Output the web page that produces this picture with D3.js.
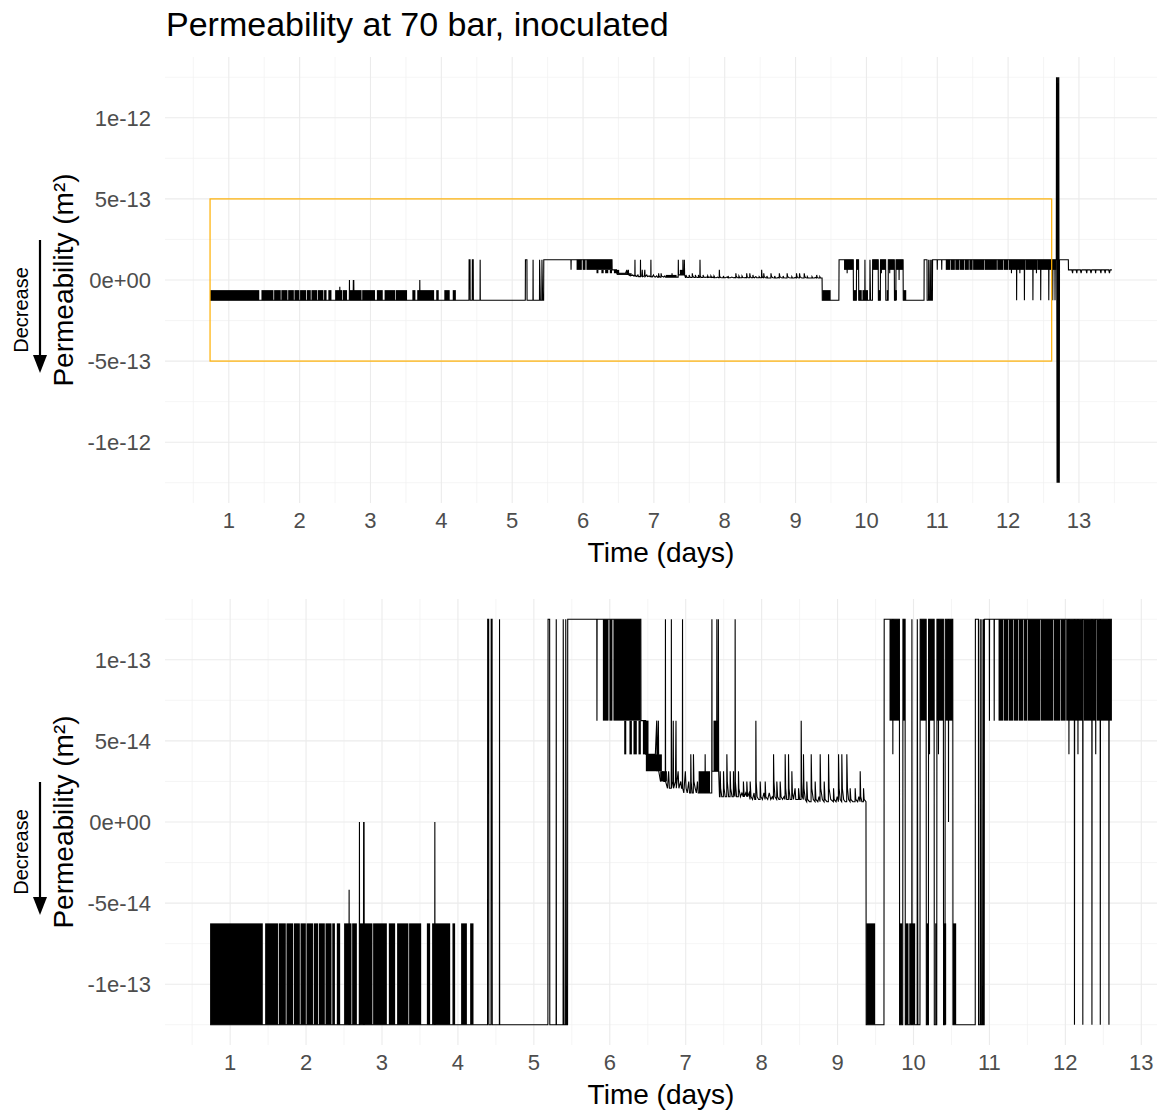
<!DOCTYPE html>
<html>
<head>
<meta charset="utf-8">
<script src="https://cdn.jsdelivr.net/npm/d3@7"></script>
<style>
body { margin: 0; background: #fff; }
text { font-family: "Liberation Sans", Arial, sans-serif; }
</style>
</head>
<body>
<svg id="chart" width="1160" height="1112"></svg>
<script>
// permeability values are in units of 1e-14 m2, time in days
var xTicks = [1, 2, 3, 4, 5, 6, 7, 8, 9, 10, 11, 12, 13];
var yTicksTop = [-100, -50, 0, 50, 100];
var yLabelsTop = ["-1e-12", "-5e-13", "0e+00", "5e-13", "1e-12"];
var yTicksBottom = [-10, -5, 0, 5, 10];
var yLabelsBottom = ["-1e-13", "-5e-14", "0e+00", "5e-14", "1e-13"];
var zoomBox = [0.7355, 12.615, -50, 50]; // t0, t1, low, high

// fast switching periods, drawn as filled blocks: [t0, t1, low, high]
var blocks = [
  [0.736,1.430,-12.5,-6.25],[1.461,1.630,-12.5,-6.25],[1.640,1.733,-12.5,-6.25],[1.742,1.828,-12.5,-6.25],
  [1.838,1.918,-12.5,-6.25],[1.927,1.997,-12.5,-6.25],[2.006,2.091,-12.5,-6.25],[2.101,2.157,-12.5,-6.25],
  [2.167,2.247,-12.5,-6.25],[2.256,2.335,-12.5,-6.25],[2.345,2.380,-12.5,-6.25],[2.405,2.449,-12.5,-6.25],
  [2.501,2.598,-12.5,-6.25],[2.607,2.669,-12.5,-6.25],[2.703,2.874,-12.5,-6.25],[2.883,3.064,-12.5,-6.25],
  [3.090,3.173,-12.5,-6.25],[3.199,3.348,-12.5,-6.25],[3.357,3.516,-12.5,-6.25],[3.591,3.634,-12.5,-6.25],
  [3.660,3.898,-12.5,-6.25],[3.928,3.963,-12.5,-6.25],[4.042,4.118,-12.5,-6.25],[4.161,4.205,-12.5,-6.25],
  [5.909,5.983,6.25,12.5],[5.995,6.035,6.25,12.5],[6.048,6.409,6.25,12.5],
  [6.190,6.217,4.17,6.25],[6.259,6.291,4.17,6.25],[6.312,6.356,4.17,6.25],[6.378,6.409,4.17,6.25],[6.436,6.510,4.17,6.25],
  [6.475,6.686,3.13,4.17],[6.664,6.752,2.5,3.13],[7.170,7.320,1.79,3.13],[7.366,7.432,3.13,6.25],
  [9.377,9.495,-12.5,-6.25],[9.816,9.855,-12.5,-6.25],[9.891,9.934,-12.5,-6.25],[9.944,10.022,-12.5,-6.25],
  [10.168,10.198,-12.5,-6.25],[10.286,10.308,-12.5,-6.25],[10.395,10.430,-12.5,-6.25],[10.519,10.562,-12.5,-6.25],
  [9.684,9.816,6.25,12.5],[9.861,9.890,6.25,12.5],[10.087,10.168,6.25,12.5],[10.197,10.273,6.25,12.5],
  [10.308,10.395,6.25,12.5],[10.418,10.519,6.25,12.5],
  [11.120,11.183,6.25,12.5],[11.190,11.248,6.25,12.5],[11.255,11.314,6.25,12.5],[11.321,11.380,6.25,12.5],
  [11.387,11.446,6.25,12.5],[11.453,11.499,6.25,12.5],[11.506,11.666,6.25,12.5],[11.673,11.841,6.25,12.5],
  [11.848,11.930,6.25,12.5],[11.937,12.004,6.25,12.5],[12.011,12.236,6.25,12.5],[12.243,12.404,6.25,12.5],
  [12.411,12.613,6.25,12.5]
];
var tailBlocks = [[12.613,12.683,6.25,12.5]];

// measured trace: [t, value]
var traceEarly = [
  [0.736,-12.5],[2.565,-12.5],[2.567,-4.17],[2.569,-12.5],
  [2.701,-12.5],[2.703,0],[2.705,-12.5],
  [2.755,-12.5],[2.758,0],[2.761,-12.5],[2.764,0],[2.767,-12.5],
  [3.694,-12.5],[3.696,0],[3.698,-12.5],
  [4.390,-12.5],[4.392,12.5],[4.405,12.5],[4.407,-12.5],[4.436,-12.5],[4.438,12.5],[4.450,12.5],[4.452,-12.5],
  [4.546,-12.5],[4.548,12.5],[4.550,-12.5],
  [5.185,-12.5],[5.187,12.5],[5.208,12.5],[5.210,-12.5],[5.293,-12.5],[5.295,12.5],[5.297,-12.5],
  [5.385,-12.5],[5.387,12.5],[5.398,-12.5],[5.418,-12.5],[5.420,12.5],[5.430,-12.5],[5.444,-12.5],[5.446,12.5],
  [5.829,12.5],[5.831,6.25],[5.833,12.5],[5.905,12.5]
];
var traceDecay = [
  [6.409,12.5],[6.411,6.25],[6.472,6.25],[6.476,4.17],[6.600,4.17],
  [6.618,6.25],[6.622,3.13],[6.640,6.25],[6.645,3.13],[6.668,2.5],[6.700,3.13],[6.712,2.5],
  [6.731,2.5],[6.733,12.5],[6.735,2.5],[6.760,2.08],[6.775,3.13],[6.785,2.08],
  [6.809,2.08],[6.811,12.5],[6.813,2.08],[6.830,2.5],[6.836,6.25],[6.840,2.08],[6.865,2.5],[6.872,6.25],[6.876,2.08],
  [6.900,3.13],[6.910,2.08],[6.935,2.5],[6.945,2.08],
  [6.956,2.08],[6.958,12.5],[6.960,2.08],[6.975,1.79],[6.995,3.13],[7.005,2.08],[7.020,1.79],[7.040,2.5],[7.050,1.79],
  [7.065,1.79],[7.067,4.17],[7.072,2.5],[7.085,1.79],[7.100,1.79],[7.102,4.17],[7.108,2.5],[7.125,2.08],[7.140,1.79],
  [7.155,2.5],[7.165,1.79],[7.254,1.79],[7.256,4.17],[7.260,1.79],
  [7.330,1.79],[7.343,1.79],[7.345,12.5],[7.347,3.13],
  [7.408,3.13],[7.410,12.5],[7.414,3.13],[7.428,3.13],[7.430,12.5],[7.434,3.13],
  [7.445,1.56],[7.452,1.56],[7.454,3.13],[7.460,2.08],[7.475,1.56],[7.496,1.56],[7.498,3.13],[7.505,2.08],[7.520,1.56],
  [7.540,1.56],[7.542,4.17],[7.548,2.5],[7.565,1.56],[7.584,1.56],[7.586,3.13],[7.592,2.08],[7.610,1.56],
  [7.627,1.56],[7.629,3.13],[7.635,1.79],
  [7.649,1.56],[7.651,12.5],[7.654,2.5],[7.670,1.56],[7.693,1.56],[7.695,3.13],[7.700,2.08],[7.720,1.56],[7.740,1.79],
  [7.758,1.56],[7.760,2.5],[7.770,1.56],
  [7.790,1.79],[7.803,1.56],[7.805,2.5],[7.815,1.56],[7.835,1.79],[7.847,1.39],[7.849,2.5],[7.860,1.56],[7.880,1.39],
  [7.900,1.79],[7.910,1.39],
  [7.922,1.39],[7.924,6.25],[7.928,2.5],[7.940,1.56],[7.960,1.39],[7.979,1.39],[7.981,2.5],[7.990,1.56],[8.010,1.39],
  [8.030,1.79],[8.045,1.39],[8.047,2.5],[8.055,1.56],[8.080,1.39],[8.100,1.79],[8.120,1.39],[8.140,1.56],
  [8.155,1.39],[8.157,4.17],[8.162,2.5],[8.175,1.56],[8.198,1.39],[8.200,2.5],[8.210,1.56],[8.228,1.39],[8.242,1.39],
  [8.244,2.5],[8.255,1.56],[8.275,1.39],[8.295,1.56],
  [8.308,1.39],[8.310,4.17],[8.316,2.08],[8.330,1.39],[8.352,1.39],[8.354,4.17],[8.360,2.08],[8.375,1.39],[8.396,1.39],
  [8.398,3.13],[8.405,1.79],[8.420,1.39],[8.440,2.08],[8.450,1.39],[8.484,1.39],[8.486,2.08],[8.500,1.39],
  [8.519,1.39],[8.521,6.25],[8.526,2.5],[8.535,1.56],[8.549,1.39],[8.551,4.17],[8.557,2.08],[8.575,1.39],[8.593,1.25],
  [8.595,2.5],[8.605,1.39],[8.630,1.25],
  [8.651,1.25],[8.653,4.17],[8.660,2.08],[8.680,1.39],[8.703,1.25],[8.705,2.5],[8.715,1.39],[8.740,1.25],[8.755,1.56],
  [8.769,1.25],[8.771,4.17],[8.778,2.08],[8.800,1.39],[8.822,1.25],[8.824,2.5],[8.835,1.39],[8.860,1.25],
  [8.879,1.25],[8.881,4.17],[8.888,2.08],[8.910,1.39],[8.945,1.25],[8.947,2.08],[8.955,1.39],[8.980,1.25],[8.995,1.56],
  [9.011,1.25],[9.013,4.17],[9.020,2.08],[9.035,1.39],[9.054,1.25],[9.056,4.17],[9.063,2.08],[9.080,1.39],[9.100,1.25],
  [9.120,1.25],[9.122,4.17],[9.130,2.08],[9.145,1.39],
  [9.164,1.25],[9.166,2.08],[9.175,1.39],[9.200,1.25],[9.230,1.25],[9.232,2.08],[9.240,1.39],[9.265,1.25],[9.280,1.56],
  [9.296,1.25],[9.298,3.13],[9.305,1.56],[9.320,1.25],[9.340,1.25],[9.342,2.08],[9.350,1.39],[9.374,1.25],[9.377,-12.5]
];
var traceLate = [
  [9.377,-12.5],[9.611,-12.5],[9.614,12.5],[9.726,12.5],[9.728,4.17],[9.730,12.5],[9.814,12.5],[9.817,-12.5],
  [9.858,-12.5],[9.861,12.5],[9.889,12.5],[9.892,-12.5],
  [9.977,-12.5],[9.979,12.5],[9.982,-12.5],
  [10.048,-12.5],[10.050,12.5],[10.058,-12.5],[10.085,-12.5],[10.088,12.5],
  [10.166,12.5],[10.169,-12.5],[10.196,-12.5],[10.199,12.5],[10.209,12.5],[10.211,4.17],[10.213,12.5],
  [10.271,12.5],[10.274,-12.5],[10.306,-12.5],[10.309,12.5],[10.327,12.5],[10.329,4.17],[10.331,12.5],
  [10.393,12.5],[10.396,-12.5],[10.415,-12.5],[10.418,12.5],[10.459,12.5],[10.461,0],[10.463,12.5],
  [10.517,12.5],[10.520,-12.5],
  [10.813,-12.5],[10.815,12.5],[10.855,12.5],[10.857,-12.5],[10.877,-12.5],[10.879,12.5],[10.884,-12.5],
  [10.899,-12.5],[10.901,12.5],[10.906,-12.5],[10.920,-12.5],[10.922,12.5],[10.926,-12.5],[10.931,-12.5],[10.934,12.5],
  [10.998,12.5],[11.000,6.25],[11.002,12.5],[11.061,12.5],[11.063,6.25],[11.065,12.5],
  [12.045,12.5],[12.047,4.17],[12.049,12.5],
  [12.118,12.5],[12.120,-12.5],[12.123,12.5],
  [12.164,12.5],[12.166,4.17],[12.168,12.5],
  [12.228,12.5],[12.230,-12.5],[12.233,12.5],
  [12.348,12.5],[12.350,-12.5],[12.353,12.5],
  [12.398,12.5],[12.400,4.17],[12.402,12.5],
  [12.458,12.5],[12.460,-12.5],[12.463,12.5],
  [12.572,12.5],[12.574,-12.5],[12.577,12.5],
  [12.613,12.5]
];
// after the zoom window (top panel only)
var traceTail = [
  [12.613,12.5],[12.628,12.5],[12.630,-12.5],[12.633,12.5],[12.660,12.5],[12.662,-12.5],[12.665,12.5],
  [12.680,12.5],[12.683,125],[12.691,-125],[12.699,125],[12.707,-125],[12.715,125],[12.722,-125],[12.725,12.5],
  [12.850,12.5],[12.852,6.25],[12.900,6.25],[12.910,4.17],[12.915,6.25],[12.960,6.25],[12.970,4.17],[12.975,6.25],
  [13.020,6.25],[13.030,4.17],[13.040,6.25],[13.100,6.25],[13.110,4.17],[13.115,6.25],[13.160,6.25],[13.170,4.17],
  [13.180,6.25],[13.230,6.25],[13.235,4.17],[13.240,6.25],[13.300,6.25],[13.310,4.17],[13.315,6.25],[13.360,6.25],
  [13.370,4.17],[13.375,6.25],[13.420,6.25],[13.430,4.17],[13.440,6.25],[13.465,6.25]
];

var svg = d3.select("#chart");
var left = 165, right = 1157;

function expand(ext) {
  var d = (ext[1] - ext[0]) * 0.05;
  return [ext[0] - d, ext[1] + d];
}

svg.append("text")
  .attr("x", 166).attr("y", 36)
  .attr("font-size", 34)
  .attr("fill", "#000")
  .text("Permeability at 70 bar, inoculated");

var panels = [
  { top: 57, bottom: 503, traces: [traceEarly, traceDecay, traceLate, traceTail], blocks: blocks.concat(tailBlocks),
    yTicks: yTicksTop, yLabels: yLabelsTop, box: true },
  { top: 599, bottom: 1045, traces: [traceEarly, traceDecay, traceLate], blocks: blocks,
    yTicks: yTicksBottom, yLabels: yLabelsBottom, box: false }
];

panels.forEach(function(p) {
  var pts = [].concat.apply([], p.traces);
  var x = d3.scaleLinear().domain(expand(d3.extent(pts, function(d) { return d[0]; }))).range([left, right]);
  var y = d3.scaleLinear().domain(expand(d3.extent(pts, function(d) { return d[1]; }))).range([p.bottom, p.top]);
  var g = svg.append("g");

  // grid
  var xd = x.domain(), yd = y.domain();
  var xMinor = xTicks.map(function(t) { return t - 0.5; }).concat([xTicks[xTicks.length - 1] + 0.5])
    .filter(function(t) { return t > xd[0] && t < xd[1]; });
  var yStep = p.yTicks[1] - p.yTicks[0];
  var yMinor = p.yTicks.map(function(t) { return t - yStep / 2; }).concat([p.yTicks[p.yTicks.length - 1] + yStep / 2])
    .filter(function(t) { return t > yd[0] && t < yd[1]; });

  g.selectAll(".xminor").data(xMinor).enter().append("line")
    .attr("x1", function(d) { return x(d); }).attr("x2", function(d) { return x(d); })
    .attr("y1", p.top).attr("y2", p.bottom)
    .attr("stroke", "#f0f0f0").attr("stroke-width", 0.7);
  g.selectAll(".yminor").data(yMinor).enter().append("line")
    .attr("y1", function(d) { return y(d); }).attr("y2", function(d) { return y(d); })
    .attr("x1", left).attr("x2", right)
    .attr("stroke", "#f0f0f0").attr("stroke-width", 0.7);
  g.selectAll(".xmajor").data(xTicks).enter().append("line")
    .attr("x1", function(d) { return x(d); }).attr("x2", function(d) { return x(d); })
    .attr("y1", p.top).attr("y2", p.bottom)
    .attr("stroke", "#ebebeb").attr("stroke-width", 1.1);
  g.selectAll(".ymajor").data(p.yTicks).enter().append("line")
    .attr("y1", function(d) { return y(d); }).attr("y2", function(d) { return y(d); })
    .attr("x1", left).attr("x2", right)
    .attr("stroke", "#ebebeb").attr("stroke-width", 1.1);

  // tick labels
  g.selectAll(".xlab").data(xTicks).enter().append("text")
    .attr("x", function(d) { return x(d); })
    .attr("y", p.bottom + 25)
    .attr("text-anchor", "middle")
    .attr("font-size", 22)
    .attr("fill", "#4d4d4d")
    .text(function(d) { return d; });
  g.selectAll(".ylab").data(p.yTicks).enter().append("text")
    .attr("x", 151)
    .attr("y", function(d) { return y(d); })
    .attr("dy", "0.36em")
    .attr("text-anchor", "end")
    .attr("font-size", 22)
    .attr("fill", "#4d4d4d")
    .text(function(d, i) { return p.yLabels[i]; });

  // axis titles
  g.append("text")
    .attr("x", (left + right) / 2)
    .attr("y", p.bottom + 59)
    .attr("text-anchor", "middle")
    .attr("font-size", 28)
    .attr("fill", "#000")
    .text("Time (days)");
  var cy = (p.top + p.bottom) / 2;
  g.append("text")
    .attr("transform", "translate(73," + cy + ") rotate(-90)")
    .attr("text-anchor", "middle")
    .attr("font-size", 28)
    .attr("fill", "#000")
    .text("Permeability (m²)");

  // "Decrease" annotation with arrow
  g.append("text")
    .attr("transform", "translate(28," + (cy + 30) + ") rotate(-90)")
    .attr("text-anchor", "middle")
    .attr("font-family", "'Open Sans', sans-serif")
    .attr("font-size", 20)
    .attr("fill", "#000")
    .text("Decrease");
  g.append("line")
    .attr("x1", 40).attr("x2", 40)
    .attr("y1", cy - 40).attr("y2", cy + 78)
    .attr("stroke", "#000").attr("stroke-width", 2.2);
  g.append("path")
    .attr("d", "M33," + (cy + 75) + "L47," + (cy + 75) + "L40," + (cy + 93) + "Z")
    .attr("fill", "#000");

  // data
  g.selectAll(".block").data(p.blocks).enter().append("rect")
    .attr("x", function(d) { return x(d[0]); })
    .attr("width", function(d) { return Math.max(0.8, x(d[1]) - x(d[0])); })
    .attr("y", function(d) { return y(d[3]); })
    .attr("height", function(d) { return y(d[2]) - y(d[3]); })
    .attr("fill", "#000");

  var line = d3.line()
    .x(function(d) { return x(d[0]); })
    .y(function(d) { return y(d[1]); });
  g.append("path")
    .datum(pts)
    .attr("d", line)
    .attr("fill", "none")
    .attr("stroke", "#000")
    .attr("stroke-width", 1.1);

  if (p.box) {
    g.append("rect")
      .attr("x", x(zoomBox[0]))
      .attr("y", y(zoomBox[3]))
      .attr("width", x(zoomBox[1]) - x(zoomBox[0]))
      .attr("height", y(zoomBox[2]) - y(zoomBox[3]))
      .attr("fill", "none")
      .attr("stroke", "#ffb000")
      .attr("stroke-width", 1.2);
  }
});
</script>
</body>
</html>
